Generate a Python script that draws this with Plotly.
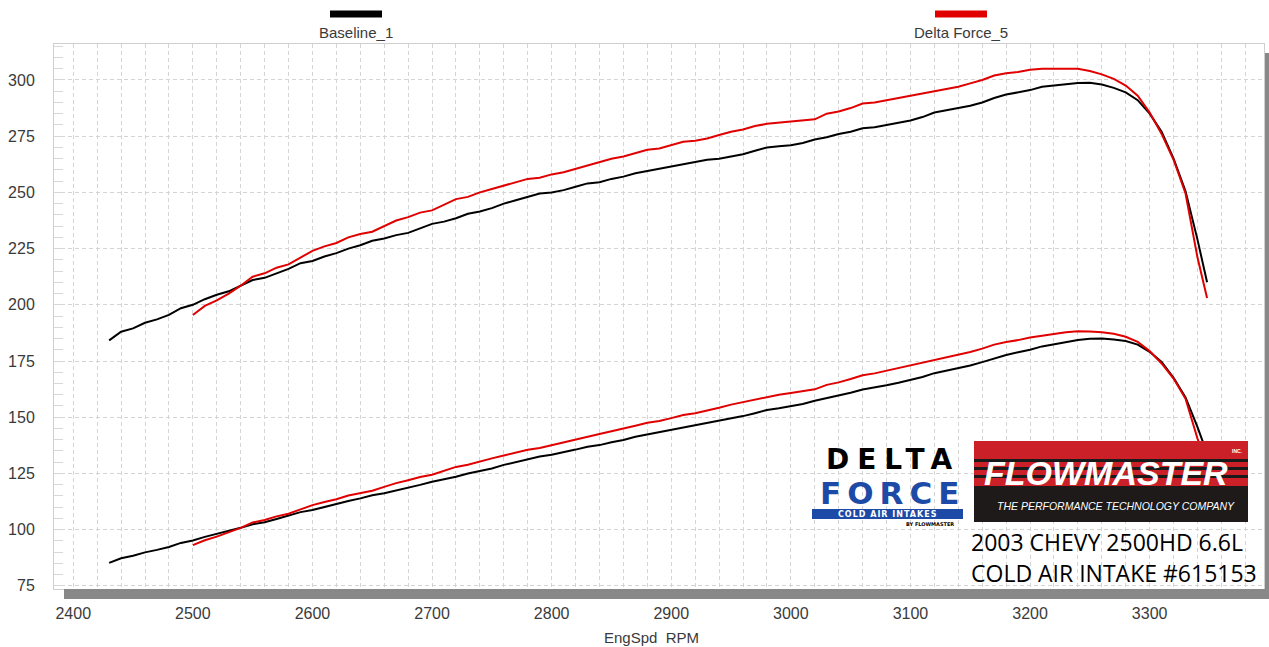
import plotly.graph_objects as go

# ---------------- data ----------------
base_rpm = [2430, 2440, 2450, 2460, 2470, 2480, 2490, 2500, 2510, 2520, 2530, 2540, 2550, 2560, 2570,
            2580, 2590, 2600, 2610, 2620, 2630, 2640, 2650, 2660, 2670, 2680, 2690, 2700, 2710, 2720,
            2730, 2740, 2750, 2760, 2770, 2780, 2790, 2800, 2810, 2820, 2830, 2840, 2850, 2860, 2870,
            2880, 2890, 2900, 2910, 2920, 2930, 2940, 2950, 2960, 2970, 2980, 2990, 3000, 3010, 3020,
            3030, 3040, 3050, 3060, 3070, 3080, 3090, 3100, 3110, 3120, 3130, 3140, 3150, 3160, 3170,
            3180, 3190, 3200, 3210, 3220, 3230, 3240, 3250, 3260, 3270, 3280, 3290, 3300, 3310, 3320,
            3330, 3340, 3348]
base_torque = [184.2, 188.0, 189.5, 192.0, 193.5, 195.5, 198.5, 200.0, 202.5, 204.5, 206.0, 208.5, 211.0, 212.0, 214.0,
               216.0, 218.5, 219.5, 221.5, 223.0, 225.0, 226.5, 228.5, 229.5, 231.0, 232.0, 234.0, 236.0, 237.0, 238.5,
               240.5, 241.5, 243.0, 245.0, 246.5, 248.0, 249.5, 250.0, 251.0, 252.5, 254.0, 254.5, 256.0, 257.0, 258.5,
               259.5, 260.5, 261.5, 262.5, 263.5, 264.5, 265.0, 266.0, 267.0, 268.5, 270.0, 270.5, 271.0, 272.0, 273.5,
               274.5, 276.0, 277.0, 278.5, 279.0, 280.0, 281.0, 282.0, 283.5, 285.5, 286.5, 287.5, 288.5, 290.0, 292.0,
               293.5, 294.5, 295.5, 297.0, 297.5, 298.3, 298.7, 298.8, 298.0, 296.5, 294.5, 291.0, 285.0, 277.0, 265.0,
               250.5, 229.0, 210.0]
base_hp = [85.2, 87.3, 88.4, 89.9, 91.0, 92.3, 94.1, 95.2, 96.8, 98.1, 99.2, 100.8, 102.4, 103.3, 104.7,
           106.1, 107.8, 108.7, 110.1, 111.2, 112.7, 113.9, 115.3, 116.2, 117.4, 118.4, 119.9, 121.3, 122.3, 123.5,
           125.0, 126.0, 127.2, 128.8, 130.0, 131.3, 132.5, 133.3, 134.3, 135.6, 136.9, 137.6, 138.9, 139.9, 141.3,
           142.3, 143.3, 144.4, 145.4, 146.5, 147.6, 148.3, 149.4, 150.5, 151.8, 153.2, 154.0, 154.8, 155.9, 157.3,
           158.4, 159.8, 160.9, 162.3, 163.1, 164.2, 165.3, 166.5, 167.9, 169.6, 170.7, 171.9, 173.0, 174.5, 176.2,
           177.7, 178.9, 180.0, 181.5, 182.4, 183.5, 184.3, 184.9, 185.0, 184.6, 183.9, 182.3, 179.1, 174.6, 167.5,
           158.8, 145.6, 133.9]

df_rpm = [2500, 2510, 2520, 2530, 2540, 2550, 2560, 2570, 2580, 2590, 2600, 2610, 2620, 2630, 2640,
          2650, 2660, 2670, 2680, 2690, 2700, 2710, 2720, 2730, 2740, 2750, 2760, 2770, 2780, 2790,
          2800, 2810, 2820, 2830, 2840, 2850, 2860, 2870, 2880, 2890, 2900, 2910, 2920, 2930, 2940,
          2950, 2960, 2970, 2980, 2990, 3000, 3010, 3020, 3030, 3040, 3050, 3060, 3070, 3080, 3090,
          3100, 3110, 3120, 3130, 3140, 3150, 3160, 3170, 3180, 3190, 3200, 3210, 3220, 3230, 3240,
          3250, 3260, 3270, 3280, 3290, 3300, 3310, 3320, 3330, 3336, 3340, 3348]
df_torque = [195.5, 199.5, 202.0, 205.0, 208.5, 212.5, 214.0, 216.5, 218.0, 221.0, 224.0, 226.0, 227.5, 230.0, 231.5,
             232.5, 235.0, 237.5, 239.0, 241.0, 242.0, 244.5, 247.0, 248.0, 250.0, 251.5, 253.0, 254.5, 256.0, 256.5,
             258.0, 259.0, 260.5, 262.0, 263.5, 265.0, 266.0, 267.5, 269.0, 269.5, 271.0, 272.5, 273.0, 274.0, 275.5,
             277.0, 278.0, 279.5, 280.5, 281.0, 281.5, 282.0, 282.5, 285.0, 286.0, 287.5, 289.5, 290.0, 291.0, 292.0,
             293.0, 294.0, 295.0, 296.0, 297.0, 298.5, 300.0, 302.0, 303.0, 303.5, 304.5, 305.0, 305.0, 305.3, 305.0,
             304.0, 302.5, 300.5, 297.5, 293.0, 285.5, 276.0, 264.5, 249.5, 232.0, 221.0, 203.0]
df_hp = [93.1, 95.3, 96.9, 98.8, 100.8, 103.2, 104.3, 105.9, 107.1, 109.0, 110.9, 112.3, 113.5, 115.2, 116.4,
         117.3, 119.0, 120.7, 122.0, 123.4, 124.4, 126.2, 127.9, 128.9, 130.4, 131.7, 133.0, 134.2, 135.5, 136.3,
         137.5, 138.6, 139.9, 141.2, 142.5, 143.8, 144.9, 146.2, 147.5, 148.3, 149.6, 151.0, 151.8, 152.9, 154.2,
         155.6, 156.7, 158.1, 159.2, 160.0, 160.8, 161.6, 162.4, 164.4, 165.5, 167.0, 168.7, 169.5, 170.7, 171.8,
         172.9, 174.1, 175.2, 176.4, 177.6, 179.0, 180.5, 182.3, 183.5, 184.3, 185.5, 186.4, 187.0, 187.8, 188.2,
         188.1, 187.8, 187.1, 185.8, 183.5, 179.4, 173.9, 167.2, 158.2, 147.4, 140.5, 129.4]

series_names = ["Baseline_1", "Delta Force_5"]
x_ticks = [2400, 2500, 2600, 2700, 2800, 2900, 3000, 3100, 3200, 3300]
y_ticks = [75, 100, 125, 150, 175, 200, 225, 250, 275, 300]
x_title = "EngSpd\u00a0 RPM"
caption = ["2003 CHEVY 2500HD 6.6L", "COLD AIR INTAKE #615153"]

# ---------------- layout geometry ----------------
W, H = 1269, 647
L, R, T, B = 54, 5, 44, 58
PW, PH = W - L - R, H - T - B


def px(x):
    return (x - L) / PW


def py(y):
    return (H - B - y) / PH


BLACK = "#000000"
RED = "#e00000"
GRID = "#d4d4d4"
TXT = "#3a3a3a"

fig = go.Figure()
fig.add_trace(go.Scatter(x=base_rpm, y=base_torque, mode="lines", line=dict(color=BLACK, width=2),
                         name=series_names[0], showlegend=False))
fig.add_trace(go.Scatter(x=base_rpm, y=base_hp, mode="lines", line=dict(color=BLACK, width=2),
                         name=series_names[0], showlegend=False))
fig.add_trace(go.Scatter(x=df_rpm, y=df_torque, mode="lines", line=dict(color=RED, width=2),
                         name=series_names[1], showlegend=False))
fig.add_trace(go.Scatter(x=df_rpm, y=df_hp, mode="lines", line=dict(color=RED, width=2),
                         name=series_names[1], showlegend=False))

shapes = []
annotations = []

# frame shadow bars
shapes.append(dict(type="rect", xref="paper", yref="paper", x0=px(64), x1=px(1265), y0=py(599), y1=py(589),
                   fillcolor="#888888", line=dict(width=0), layer="above"))
shapes.append(dict(type="rect", xref="paper", yref="paper", x0=px(1265), x1=px(1269), y0=py(599), y1=py(53),
                   fillcolor="#888888", line=dict(width=0), layer="above"))

# legend
for name, col, cx in [(series_names[0], BLACK, 356), (series_names[1], RED, 961)]:
    shapes.append(dict(type="rect", xref="paper", yref="paper", x0=px(cx - 26), x1=px(cx + 26),
                       y0=py(17.5), y1=py(10.5), fillcolor=col, line=dict(width=0)))
    annotations.append(dict(xref="paper", yref="paper", x=px(cx), y=py(33), text=name, showarrow=False,
                            xanchor="center", yanchor="middle",
                            font=dict(family="Liberation Sans, Arial", size=15, color=TXT)))

# x axis title
annotations.append(dict(xref="paper", yref="paper", x=px(651), y=py(637), text=x_title, showarrow=False,
                        xanchor="center", yanchor="middle",
                        font=dict(family="Liberation Sans, Arial", size=15, color=TXT)))

# Flowmaster logo
FM_RED = "#cc2029"
shapes.append(dict(type="rect", xref="paper", yref="paper", x0=px(974), x1=px(1248), y0=py(487), y1=py(441),
                   fillcolor=FM_RED, line=dict(width=0), layer="above"))
for sy in [459, 467, 475]:
    shapes.append(dict(type="rect", xref="paper", yref="paper", x0=px(974), x1=px(1248), y0=py(sy + 3), y1=py(sy),
                       fillcolor="#1a1a1a", line=dict(width=0), layer="above"))
shapes.append(dict(type="rect", xref="paper", yref="paper", x0=px(974), x1=px(1248), y0=py(522), y1=py(486),
                   fillcolor="#1e1a1a", line=dict(width=0), layer="above"))
annotations.append(dict(xref="paper", yref="paper", x=px(1106), y=py(473), text="FLOWMASTER", showarrow=False,
                        xanchor="center", yanchor="middle",
                        font=dict(family="Liberation Sans, Arial", size=34, color="white",
                                  weight="bold", style="italic")))
annotations.append(dict(xref="paper", yref="paper", x=px(1237), y=py(451), text="INC.", showarrow=False,
                        xanchor="center", yanchor="middle",
                        font=dict(family="Liberation Sans, Arial", size=5, color="white", weight="bold")))
annotations.append(dict(xref="paper", yref="paper", x=px(1116), y=py(506),
                        text="THE PERFORMANCE TECHNOLOGY COMPANY", showarrow=False,
                        xanchor="center", yanchor="middle",
                        font=dict(family="Liberation Sans, Arial", size=10.5, color="white", style="italic")))

# Delta Force logo
DF_BLUE = "#1d4aa6"
annotations.append(dict(xref="paper", yref="paper", x=px(893), y=py(459),
                        text='<span style="letter-spacing:8px">DELTA</span>', showarrow=False,
                        xanchor="center", yanchor="middle",
                        font=dict(family="DejaVu Sans", size=28, color="black", weight="bold")))
annotations.append(dict(xref="paper", yref="paper", x=px(892), y=py(493),
                        text='<span style="letter-spacing:6px">FORCE</span>', showarrow=False,
                        xanchor="center", yanchor="middle",
                        font=dict(family="DejaVu Sans", size=31, color=DF_BLUE, weight="bold")))
shapes.append(dict(type="rect", xref="paper", yref="paper", x0=px(812), x1=px(963), y0=py(519), y1=py(509),
                   fillcolor=DF_BLUE, line=dict(width=0), layer="above"))
annotations.append(dict(xref="paper", yref="paper", x=px(888), y=py(514),
                        text='<span style="letter-spacing:1px">COLD AIR INTAKES</span>', showarrow=False,
                        xanchor="center", yanchor="middle",
                        font=dict(family="DejaVu Sans", size=8, color="white", weight="bold")))
annotations.append(dict(xref="paper", yref="paper", x=px(930), y=py(524), text="BY FLOWMASTER", showarrow=False,
                        xanchor="center", yanchor="middle",
                        font=dict(family="DejaVu Sans", size=5, color="black", weight="bold")))

# caption
for i, line in enumerate(caption):
    annotations.append(dict(xref="paper", yref="paper", x=px(969), y=py(542 + 31 * i), text=line, showarrow=False,
                            xanchor="left", yanchor="middle",
                            font=dict(family="Open Sans", size=23, color="black")))

fig.update_layout(
    width=W, height=H,
    margin=dict(l=L, r=R, t=T, b=B, pad=0),
    paper_bgcolor="white", plot_bgcolor="white",
    showlegend=False,
    shapes=shapes, annotations=annotations,
    xaxis=dict(range=[2383.9, 3395.6], tickvals=x_ticks, ticktext=[str(v) for v in x_ticks],
               showgrid=True, gridcolor=GRID, griddash="4px,3px", gridwidth=1,
               minor=dict(dtick=20, tick0=2400, showgrid=True, gridcolor=GRID, griddash="4px,3px", gridwidth=1),
               ticks="", showline=True, linecolor="#cfcfcf", mirror=True, zeroline=False,
               tickfont=dict(family="Liberation Sans, Arial", size=16, color=TXT),
               ticklabelstandoff=10),
    yaxis=dict(range=[73.6, 316.0], tickvals=y_ticks, ticktext=[str(v) for v in y_ticks],
               showgrid=True, gridcolor=GRID, griddash="4px,3px", gridwidth=1,
               minor=dict(dtick=5, tick0=75, ticks="inside", ticklen=9, tickcolor="#d8d8d8", showgrid=False),
               ticks="", showline=True, linecolor="#cfcfcf", mirror=True, zeroline=False,
               tickfont=dict(family="Liberation Sans, Arial", size=16, color=TXT),
               ticklabelstandoff=15),
)

fig.write_html("out.html", config={"displayModeBar": False},
               post_script="document.body.style.margin='0';document.body.style.overflow='hidden';")
